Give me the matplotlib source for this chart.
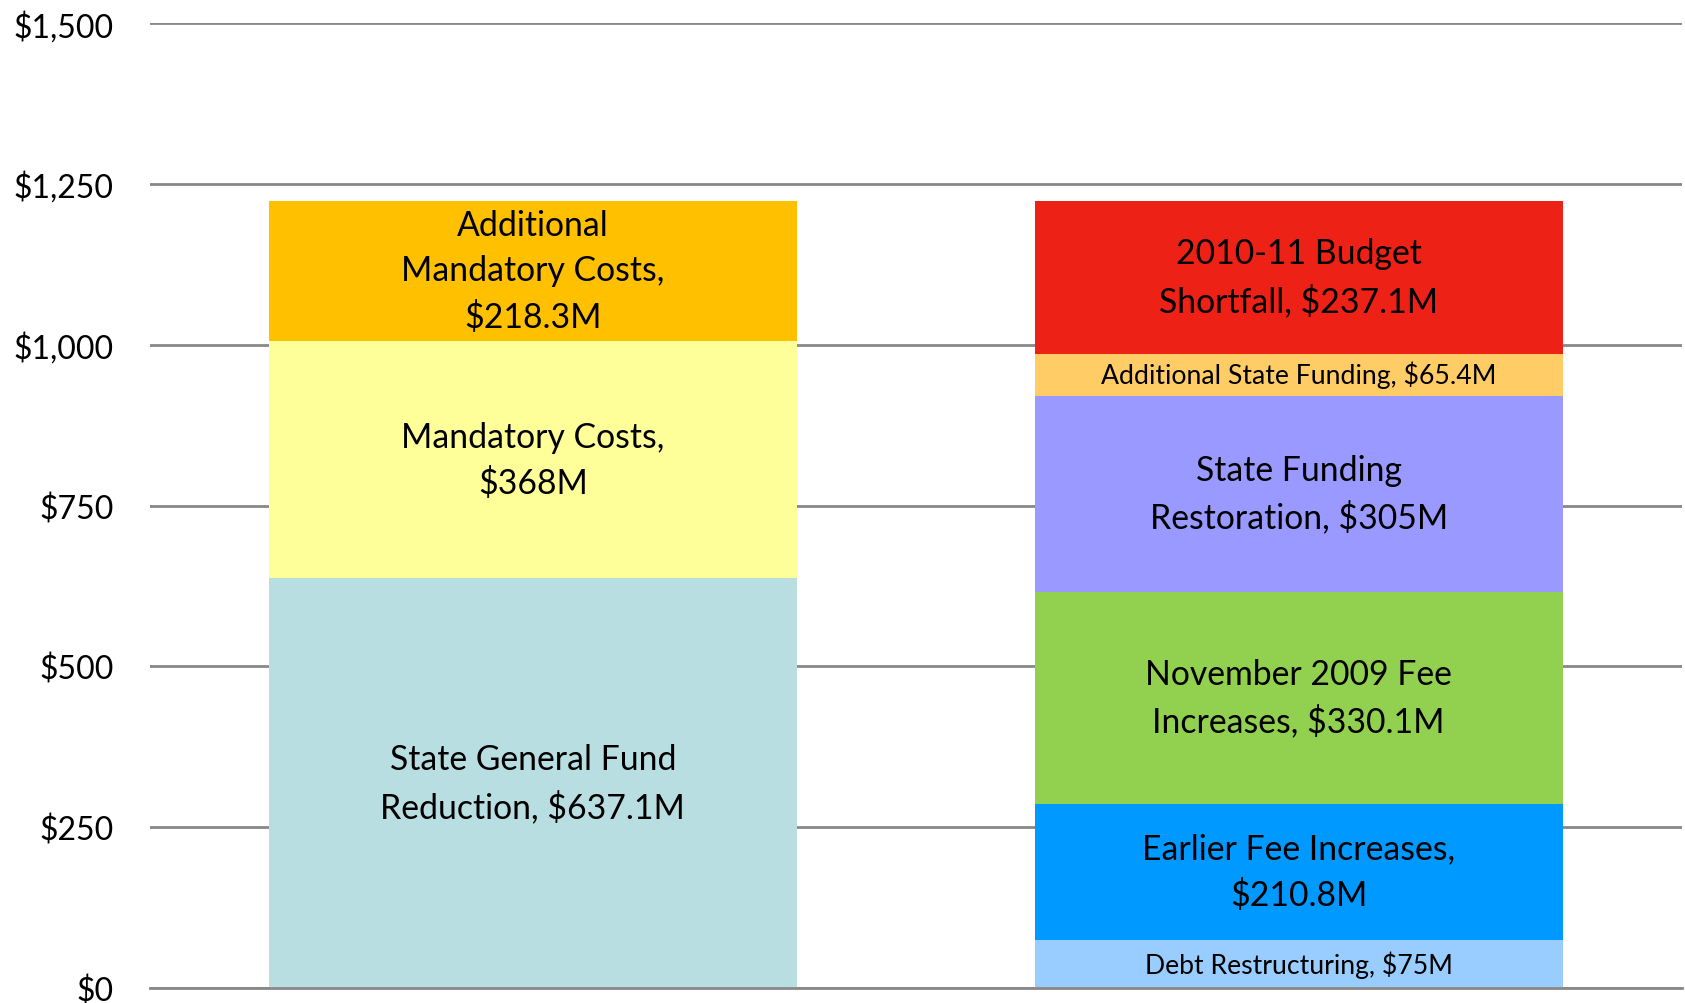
import matplotlib
matplotlib.use("Agg")
import matplotlib.pyplot as plt
from matplotlib.ticker import FuncFormatter

plt.rcParams['font.family'] = ['Lato', 'DejaVu Sans']

categories = ["Costs", "Solutions"]
left_labels = ["State General Fund\nReduction, $637.1M", "Mandatory Costs,\n$368M",
               "Additional\nMandatory Costs,\n$218.3M"]
left_values = [637.1, 368, 218.3]
left_colors = ["#B9DEE2", "#FFFF99", "#FFC000"]

right_labels = ["Debt Restructuring, $75M", "Earlier Fee Increases,\n$210.8M",
                "November 2009 Fee\nIncreases, $330.1M", "State Funding\nRestoration, $305M",
                "Additional State Funding, $65.4M", "2010-11 Budget\nShortfall, $237.1M"]
right_values = [75, 210.8, 330.1, 305, 65.4, 237.1]
right_colors = ["#99CCFF", "#0099FF", "#92D050", "#9999FF", "#FFCC66", "#EE2116"]
small_labels = {"Debt Restructuring, $75M", "Additional State Funding, $65.4M"}

yticks = [0, 250, 500, 750, 1000, 1250, 1500]

fig = plt.figure(figsize=(16.85, 10.04), dpi=100)
ax = fig.add_axes([0.089, 0.015, 0.909, 0.961])

width = 0.69
for xi, values, colors, labels in [(0, left_values, left_colors, left_labels),
                                   (1, right_values, right_colors, right_labels)]:
    bottom = 0
    for v, c, lab in zip(values, colors, labels):
        ax.bar(xi, v, width=width, bottom=bottom, color=c, edgecolor='none', zorder=3)
        fs = 19.2 if lab in small_labels else 24.3
        ax.text(xi, bottom + v / 2, lab, ha='center', va='center', fontsize=fs,
                linespacing=1.5, zorder=4, color='black')
        bottom += v

ax.set_xlim(-0.5, 1.5)
ax.set_ylim(0, 1500)
ax.set_yticks(yticks)
ax.yaxis.set_major_formatter(FuncFormatter(lambda v, p: "${:,.0f}".format(v)))
ax.tick_params(axis='y', length=0, pad=26, labelsize=23)
ax.set_xticks([])
ax.grid(axis='y', color='#888888', linewidth=2, zorder=0)
for s in ['top', 'right', 'left']:
    ax.spines[s].set_visible(False)
ax.spines['bottom'].set_color('#888888')
ax.spines['bottom'].set_linewidth(2)
ax.spines['bottom'].set_zorder(5)

fig.savefig("out.png", dpi=100)
